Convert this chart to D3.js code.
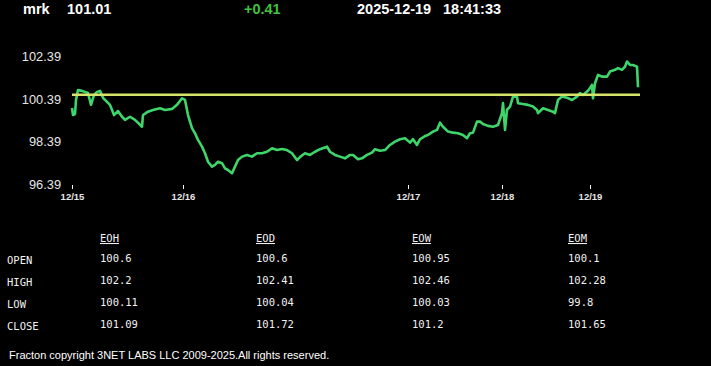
<!DOCTYPE html>
<html>
<head>
<meta charset="utf-8">
<script src="https://cdn.jsdelivr.net/npm/d3@7"></script>
<style>
  html, body { margin: 0; padding: 0; background: #000; }
  svg { display: block; }
</style>
</head>
<body>
<svg id="chart"></svg>
<script>
const W = 711, H = 366;

// header
const SYMBOL = "mrk";
const LAST = "101.01";
const CHANGE = "+0.41";
const DATE = "2025-12-19";
const TIME = "18:41:33";
const OPEN_LINE = 100.6;

// x position is a bar index along the session axis
const dayTicks = [0, 111, 336, 430, 518];
const dayLabels = ["12/15", "12/16", "12/17", "12/18", "12/19"];
const yTicks = [96.39, 98.39, 100.39, 102.39];

// [bar, price]
const prices = [
  [0, 99.97], [1, 99.64], [3, 99.69], [4, 100.35], [6, 100.82], [10, 100.78], [13, 100.73],
  [16, 100.68], [19, 100.12], [22, 100.59], [25, 100.73], [28, 100.78], [31, 100.45],
  [35, 100.26], [38, 100.12], [42, 99.64], [46, 99.83], [50, 99.56], [53, 99.41],
  [58, 99.56], [63, 99.41], [70, 99.09], [71, 99.64], [76, 99.80], [81, 99.88],
  [88, 99.96], [93, 99.88], [100, 99.93], [105, 100.12], [110, 100.43], [113, 100.35],
  [116, 99.64], [120, 99.02], [123, 98.78], [126, 98.47], [130, 98.15], [133, 97.84],
  [136, 97.44], [140, 97.21], [143, 97.29], [146, 97.44], [150, 97.37], [153, 97.13],
  [156, 97.05], [160, 96.90], [163, 97.21], [166, 97.52], [170, 97.68], [175, 97.76],
  [180, 97.68], [185, 97.84], [190, 97.84], [195, 97.91], [200, 98.07], [205, 97.99],
  [210, 98.04], [215, 97.99], [220, 97.84], [225, 97.52], [228, 97.66], [233, 97.84],
  [238, 97.76], [243, 97.91], [248, 98.03], [255, 98.15], [258, 97.91], [263, 97.76],
  [268, 97.68], [273, 97.60], [278, 97.76], [281, 97.76], [286, 97.56], [290, 97.60],
  [295, 97.76], [300, 97.87], [303, 98.03], [308, 97.96], [313, 97.99], [318, 98.23],
  [323, 98.39], [328, 98.50], [333, 98.55], [338, 98.34], [341, 98.50], [345, 98.23],
  [348, 98.50], [353, 98.65], [356, 98.70], [361, 98.86], [365, 98.94], [368, 99.28],
  [371, 99.09], [376, 98.86], [381, 98.81], [386, 98.78], [391, 98.70], [395, 98.55],
  [398, 98.78], [401, 98.81], [405, 99.33], [408, 99.33], [411, 99.22], [416, 99.13],
  [421, 99.09], [426, 99.17], [430, 99.73], [431, 100.20], [433, 98.94], [435, 99.88],
  [438, 100.04], [441, 100.51], [445, 100.51], [446, 100.20], [451, 100.16], [456, 100.12],
  [461, 100.04], [465, 99.88], [466, 99.73], [471, 99.96], [476, 99.88], [481, 99.80],
  [483, 99.73], [486, 100.35], [490, 100.51], [495, 100.46], [500, 100.35], [505, 100.51],
  [508, 100.67], [511, 100.59], [516, 100.78], [520, 101.06], [521, 100.43], [523, 101.14],
  [526, 101.53], [530, 101.45], [535, 101.45], [538, 101.69], [543, 101.77], [546, 101.85],
  [550, 101.77], [553, 101.92], [555, 102.16], [558, 102.00], [561, 102.00], [565, 101.92],
  [566, 100.95]
];

// summary table
const columns = ["EOH", "EOD", "EOW", "EOM"];
const rowNames = ["OPEN", "HIGH", "LOW", "CLOSE"];
const eoh = ["100.6", "102.2", "100.11", "101.09"];
const eod = ["100.6", "102.41", "100.04", "101.72"];
const eow = ["100.95", "102.46", "100.03", "101.2"];
const eom = ["100.1", "102.28", "99.8", "101.65"];
const tableCols = [eoh, eod, eow, eom];

const FOOTER = "Fracton copyright 3NET LABS LLC 2009-2025.All rights reserved.";

const svg = d3.select("#chart").attr("width", W).attr("height", H);
svg.append("rect").attr("width", W).attr("height", H).attr("fill", "#000");

const x = d3.scaleLinear().domain([0, 568]).range([72, 640]);
const y = d3.scaleLinear().domain([96.39, 102.39]).range([184, 56.7]);

// header line
const head = svg.append("g")
  .style("font-family", "Arial, 'Liberation Sans', sans-serif")
  .style("font-weight", "bold")
  .style("font-size", "14.5px");
const headItems = [
  {t: SYMBOL, x: 23, c: "#fff"},
  {t: LAST, x: 67, c: "#fff"},
  {t: CHANGE, x: 244, c: "#3fc23f"},
  {t: DATE, x: 357, c: "#fff"},
  {t: TIME, x: 443, c: "#fff"}
];
head.selectAll("text").data(headItems).join("text")
  .attr("x", d => d.x).attr("y", 14)
  .attr("fill", d => d.c)
  .text(d => d.t);

// y axis
const yAxis = svg.append("g")
  .attr("transform", "translate(61,0)")
  .call(d3.axisLeft(y).tickValues(yTicks).tickSize(0).tickPadding(0).tickFormat(d3.format(".2f")));
yAxis.select(".domain").remove();
yAxis.selectAll("text")
  .attr("fill", "#e6e6e6")
  .style("font-family", "Arial, 'Liberation Sans', sans-serif")
  .style("font-size", "12.8px");

// x axis
const xAxis = svg.append("g")
  .attr("transform", "translate(0,185)")
  .call(d3.axisBottom(x).tickValues(dayTicks).tickSize(4).tickPadding(4)
    .tickFormat((d, i) => dayLabels[i]));
xAxis.select(".domain").remove();
xAxis.selectAll("line").attr("stroke", "#fff");
xAxis.selectAll("text")
  .attr("fill", "#e6e6e6")
  .style("font-family", "Arial, 'Liberation Sans', sans-serif")
  .style("font-weight", "bold")
  .style("font-size", "9.5px");

// price line
const line = d3.line().x(d => x(d[0])).y(d => y(d[1]));
svg.append("path")
  .datum(prices)
  .attr("fill", "none")
  .attr("stroke", "#3ed66a")
  .attr("stroke-width", 2.6)
  .attr("stroke-linejoin", "round")
  .attr("d", line);

// open reference line
svg.append("line")
  .attr("x1", x(0)).attr("x2", x(568))
  .attr("y1", y(OPEN_LINE)).attr("y2", y(OPEN_LINE))
  .attr("stroke", "#d6e46c")
  .attr("stroke-width", 2.5);

// table
const table = svg.append("g")
  .style("font-family", "'DejaVu Sans Mono', 'Liberation Mono', monospace")
  .style("font-size", "10.5px")
  .attr("fill", "#f2f2f2");
const colX = d3.scalePoint().domain(columns).range([100, 568]);
const rowY = d3.scalePoint().domain(rowNames).range([263, 329]);

table.selectAll("text.hdr").data(columns).join("text")
  .attr("class", "hdr")
  .attr("x", d => colX(d)).attr("y", 242)
  .attr("text-decoration", "underline")
  .text(d => d);

table.selectAll("text.row").data(rowNames).join("text")
  .attr("class", "row")
  .attr("x", 7).attr("y", d => rowY(d) + 1)
  .text(d => d);

columns.forEach((c, ci) => {
  table.selectAll("text.v" + ci).data(tableCols[ci]).join("text")
    .attr("class", "v" + ci)
    .attr("x", colX(c)).attr("y", (d, i) => rowY(rowNames[i]) - 1)
    .text(d => d);
});

// footer
svg.append("text")
  .attr("x", 9).attr("y", 359)
  .attr("fill", "#fff")
  .style("font-family", "Arial, 'Liberation Sans', sans-serif")
  .style("font-size", "11px")
  .text(FOOTER);
</script>
</body>
</html>
